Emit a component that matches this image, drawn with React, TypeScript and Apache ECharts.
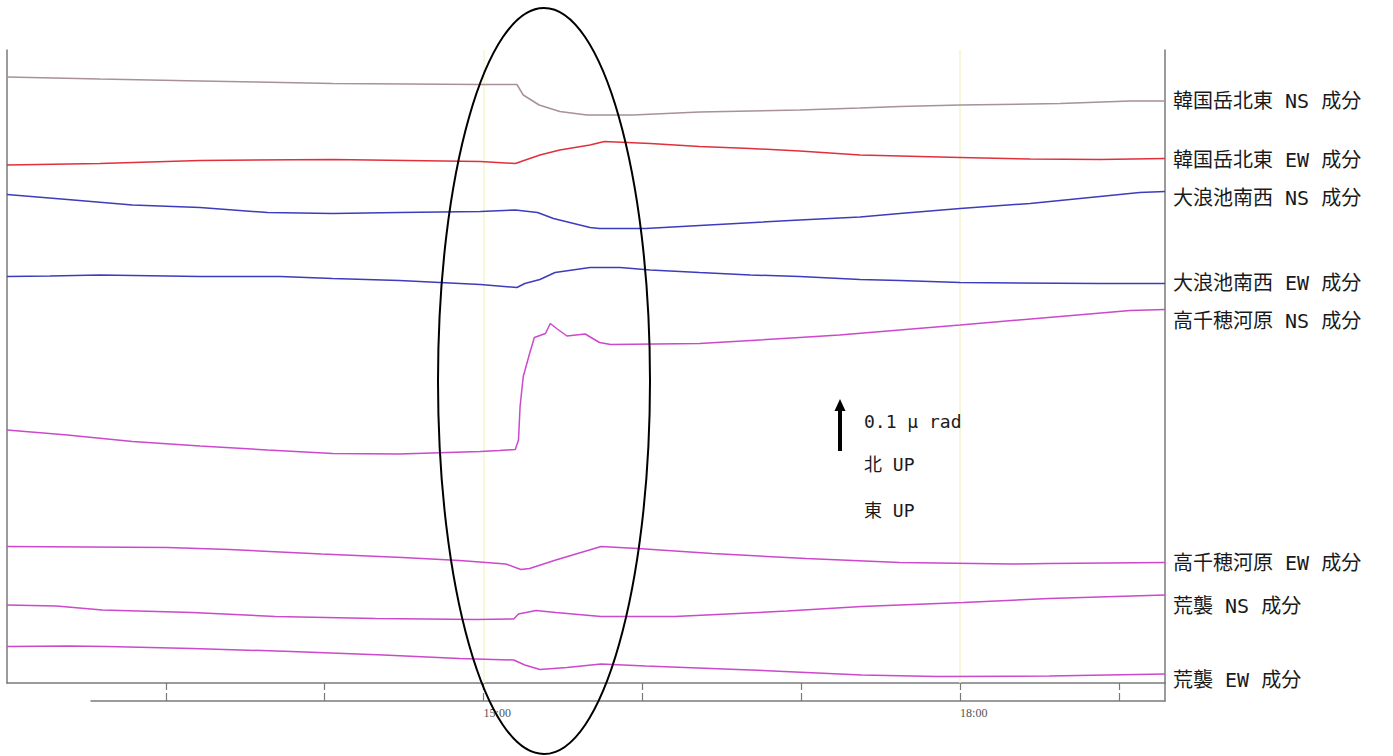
import React, { useEffect, useRef } from "react";
import * as echarts from "echarts";

// Time axis (hours of day) and tick labels
const X_MIN = 12;
const X_MAX = 19.29;
const HOUR_TICKS = [13, 14, 15, 16, 17, 18, 19];
const HOUR_LABELS = [15, 18];
const MARK_HOURS = [15, 18];

// Display scale in μrad (traces are offset for display)
const Y_MAX = 1.266;

const TRACE_NAMES = [
  "韓国岳北東 NS 成分",
  "韓国岳北東 EW 成分",
  "大浪池南西 NS 成分",
  "大浪池南西 EW 成分",
  "高千穂河原 NS 成分",
  "高千穂河原 EW 成分",
  "荒襲 NS 成分",
  "荒襲 EW 成分",
];

const TRACE_COLORS = [
  "#a8909c",
  "#e0303c",
  "#3c3cbc",
  "#3c3cbc",
  "#cc48cc",
  "#cc48cc",
  "#cc48cc",
  "#cc48cc",
];

// [hour, tilt level μrad]
const KAN_NS = [
  [12.0, 1.212], [12.585, 1.208], [13.215, 1.204], [13.57, 1.202], [14.05, 1.199],
  [14.98, 1.197], [15.21, 1.197], [15.25, 1.176], [15.35, 1.156], [15.48, 1.143],
  [15.65, 1.136], [15.94, 1.136], [16.36, 1.142], [16.99, 1.146], [17.37, 1.15],
  [17.62, 1.153], [18.0, 1.156], [18.63, 1.159], [19.07, 1.164], [19.29, 1.164],
];
const KAN_EW = [
  [12.0, 1.036], [12.585, 1.039], [13.215, 1.045], [14.05, 1.047], [14.98, 1.043],
  [15.2, 1.039], [15.355, 1.056], [15.48, 1.066], [15.67, 1.076], [15.76, 1.083],
  [16.05, 1.079], [16.36, 1.073], [16.68, 1.069], [16.99, 1.064], [17.37, 1.056],
  [17.62, 1.054], [18.0, 1.051], [18.44, 1.048], [18.88, 1.047], [19.29, 1.049],
];
const ONA_NS = [
  [12.0, 0.977], [12.38, 0.967], [12.79, 0.956], [13.215, 0.951], [13.64, 0.941],
  [14.05, 0.939], [14.47, 0.941], [14.98, 0.943], [15.2, 0.946], [15.34, 0.941],
  [15.44, 0.929], [15.67, 0.911], [15.73, 0.909], [16.02, 0.909], [16.36, 0.915],
  [16.99, 0.926], [17.37, 0.932], [17.62, 0.939], [18.0, 0.949], [18.44, 0.959],
  [18.88, 0.973], [19.13, 0.981], [19.29, 0.983],
];
const ONA_EW = [
  [12.0, 0.813], [12.27, 0.814], [12.585, 0.816], [13.215, 0.813], [13.72, 0.813],
  [14.05, 0.809], [14.47, 0.805], [14.98, 0.797], [15.21, 0.791], [15.26, 0.799],
  [15.355, 0.807], [15.45, 0.821], [15.67, 0.831], [15.86, 0.831], [16.05, 0.826],
  [16.36, 0.821], [16.68, 0.816], [16.99, 0.813], [17.37, 0.807], [17.62, 0.805],
  [18.0, 0.801], [18.88, 0.799], [19.29, 0.799],
];
const TAK_NS = [
  [12.0, 0.506], [12.38, 0.496], [12.79, 0.483], [13.215, 0.474], [13.64, 0.466],
  [14.05, 0.459], [14.47, 0.458], [14.98, 0.463], [15.1, 0.465], [15.2, 0.467],
  [15.22, 0.486], [15.23, 0.553], [15.25, 0.613], [15.29, 0.659], [15.32, 0.691],
  [15.39, 0.699], [15.42, 0.719], [15.46, 0.709], [15.525, 0.694], [15.64, 0.698],
  [15.73, 0.681], [15.8, 0.677], [16.36, 0.679], [16.99, 0.691], [17.24, 0.696],
  [18.0, 0.716], [18.63, 0.733], [19.07, 0.745], [19.29, 0.747],
];
const TAK_EW = [
  [12.0, 0.273], [13.01, 0.271], [13.4, 0.267], [13.98, 0.258], [14.49, 0.251],
  [14.85, 0.245], [15.14, 0.238], [15.235, 0.227], [15.29, 0.229], [15.455, 0.246],
  [15.74, 0.273], [15.97, 0.269], [16.44, 0.259], [17.03, 0.249], [17.62, 0.241],
  [18.33, 0.238], [18.56, 0.239], [19.29, 0.241],
];
const ARA_NS = [
  [12.0, 0.156], [12.31, 0.154], [12.6, 0.146], [13.165, 0.141], [13.69, 0.133],
  [14.32, 0.129], [14.95, 0.127], [15.19, 0.128], [15.22, 0.138], [15.33, 0.145],
  [15.455, 0.141], [15.74, 0.133], [16.205, 0.133], [16.91, 0.144], [17.38, 0.153],
  [18.02, 0.161], [18.56, 0.169], [19.29, 0.176],
];
const ARA_EW = [
  [12.0, 0.073], [12.39, 0.074], [12.63, 0.073], [13.165, 0.069], [13.79, 0.063],
  [14.37, 0.056], [14.85, 0.049], [15.19, 0.046], [15.26, 0.036], [15.355, 0.027],
  [15.525, 0.031], [15.74, 0.038], [16.02, 0.034], [16.68, 0.026], [17.38, 0.016],
  [17.855, 0.013], [18.56, 0.014], [19.29, 0.018],
];

const TRACES = [KAN_NS, KAN_EW, ONA_NS, ONA_EW, TAK_NS, TAK_EW, ARA_NS, ARA_EW];

const SCALE_TEXT = ["0.1 μ rad", "北 UP", "東 UP"];

export default function App() {
  const ref = useRef<HTMLDivElement>(null);

  useEffect(() => {
    if (!ref.current) return;
    const chart = echarts.init(ref.current, undefined, { renderer: "svg" });

    const gridLeft = 7;
    const gridRight = 228;
    const plotWidth = 1393 - gridLeft - gridRight;
    const pxPerHour = plotWidth / (X_MAX - X_MIN);
    const bottomAxisLeft = 91;
    const bottomMin = X_MIN + (bottomAxisLeft - gridLeft) / pxPerHour;

    const axisGray = "#7a7a7a";

    const series: any[] = TRACES.map((data, i) => ({
      type: "line",
      name: TRACE_NAMES[i],
      xAxisIndex: 0,
      yAxisIndex: 0,
      data,
      showSymbol: false,
      symbol: "none",
      lineStyle: { color: TRACE_COLORS[i], width: 1.5 },
      z: 3,
      markLine:
        i === 0
          ? {
              silent: true,
              symbol: ["none", "none"],
              label: { show: false },
              lineStyle: { color: "#f7f4cc", width: 1.5, type: "solid" },
              data: MARK_HOURS.map((h) => ({ xAxis: h })),
              z: 1,
            }
          : undefined,
    }));

    const labelY = [101, 160, 198, 283, 321, 563, 606, 680];
    const labelFont = "'DejaVu Sans Mono', 'Noto Sans CJK JP', sans-serif";

    const graphics: any[] = [];
    TRACE_NAMES.forEach((name, i) => {
      graphics.push({
        type: "text",
        x: 1173,
        y: labelY[i],
        style: {
          text: name,
          fill: "#1a1a1a",
          font: `20px ${labelFont}`,
          verticalAlign: "middle",
        },
        z: 10,
      });
    });

    // scale arrow
    graphics.push({
      type: "rect",
      shape: { x: 838, y: 408, width: 4, height: 43 },
      style: { fill: "#000" },
      z: 10,
    });
    graphics.push({
      type: "polygon",
      shape: { points: [[834.5, 411], [840, 399], [845.5, 411]] },
      style: { fill: "#000" },
      z: 10,
    });
    const scaleY = [421, 464, 510];
    SCALE_TEXT.forEach((t, i) => {
      graphics.push({
        type: "text",
        x: 864,
        y: scaleY[i],
        style: {
          text: t,
          fill: "#1a1a1a",
          font: `18px ${labelFont}`,
          verticalAlign: "middle",
        },
        z: 10,
      });
    });

    // highlight ellipse
    graphics.push({
      type: "ellipse",
      shape: { cx: 544, cy: 381, rx: 106, ry: 373 },
      style: { fill: "none", stroke: "#000", lineWidth: 2 },
      z: 20,
    });

    chart.setOption({
      animation: false,
      backgroundColor: "#ffffff",
      grid: [
        { left: gridLeft, right: gridRight, top: 50, bottom: 73 },
        { left: bottomAxisLeft, right: gridRight, top: 683, bottom: 55 },
      ],
      xAxis: [
        {
          type: "value",
          gridIndex: 0,
          min: X_MIN,
          max: X_MAX,
          position: "top",
          axisLine: { show: true, lineStyle: { color: axisGray, width: 1.5 } },
          axisTick: {
            show: true,
            inside: true,
            length: 7,
            customValues: HOUR_TICKS,
            lineStyle: { color: axisGray, width: 1.2 },
          },
          axisLabel: { show: false },
          splitLine: { show: false },
        },
        {
          type: "value",
          gridIndex: 1,
          min: bottomMin,
          max: X_MAX,
          position: "bottom",
          axisLine: { show: true, lineStyle: { color: axisGray, width: 1.5 } },
          axisTick: {
            show: true,
            inside: true,
            length: 8,
            customValues: HOUR_TICKS,
            lineStyle: { color: axisGray, width: 1.2 },
          },
          axisLabel: {
            show: true,
            customValues: HOUR_LABELS,
            formatter: (v: number) => `${Math.round(v)}:00`,
            align: "left",
            margin: 6,
            color: "#555",
            fontFamily: "'Liberation Serif', serif",
            fontSize: 12,
          },
          splitLine: { show: false },
        },
      ],
      yAxis: [
        {
          type: "value",
          gridIndex: 0,
          min: 0,
          max: Y_MAX,
          position: "left",
          axisLine: { show: true, lineStyle: { color: axisGray, width: 1.5 } },
          axisTick: { show: false },
          axisLabel: { show: false },
          splitLine: { show: false },
        },
        {
          type: "value",
          gridIndex: 0,
          min: 0,
          max: Y_MAX,
          position: "right",
          axisLine: { show: true, lineStyle: { color: axisGray, width: 1.5 } },
          axisTick: { show: false },
          axisLabel: { show: false },
          splitLine: { show: false },
        },
        {
          type: "value",
          gridIndex: 1,
          min: 0,
          max: 1,
          position: "right",
          axisLine: { show: true, lineStyle: { color: axisGray, width: 1.5 } },
          axisTick: { show: false },
          axisLabel: { show: false },
          splitLine: { show: false },
        },
      ],
      series,
      graphic: graphics,
    });

    return () => chart.dispose();
  }, []);

  return (
    <div
      ref={ref}
      style={{ position: "fixed", left: 0, top: 0, width: 1393, height: 756, background: "#fff" }}
    />
  );
}
